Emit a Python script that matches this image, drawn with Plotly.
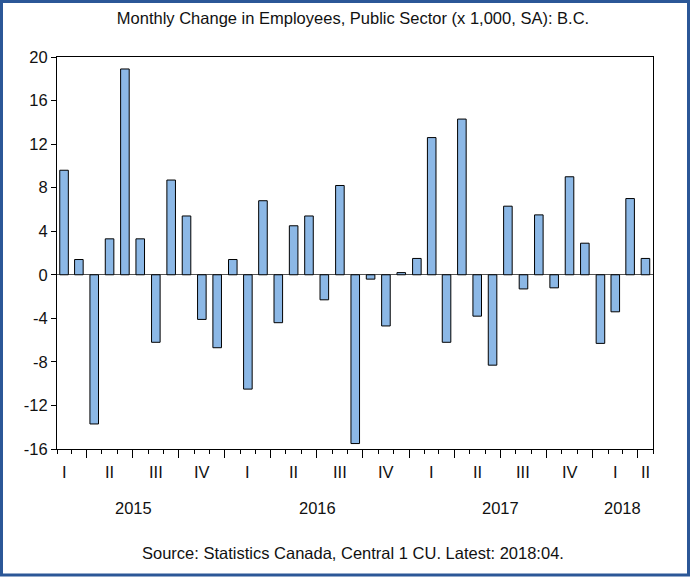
import plotly.graph_objects as go
import pandas as pd

months = pd.date_range("2015-02-01", "2018-04-01", freq="MS").strftime("%Y-%m-%d").tolist()
values = [9.6, 1.4, -13.7, 3.3, 18.9, 3.3, -6.2, 8.7, 5.4, -4.1, -6.7, 1.4, -10.5,
          6.8, -4.4, 4.5, 5.4, -2.3, 8.2, -15.5, -0.4, -4.7, 0.2, 1.5, 12.6, -6.2,
          14.3, -3.8, -8.3, 6.3, -1.3, 5.5, -1.2, 9.0, 2.9, -6.3, -3.4, 7.0, 1.5]
quarter_labels = ["I", "II", "III", "IV"]
years = ["2015", "2016", "2017", "2018"]
y_ticks = [-16, -12, -8, -4, 0, 4, 8, 12, 16, 20]

title = "Monthly Change in Employees, Public Sector (x 1,000, SA): B.C."
source = "Source: Statistics Canada, Central 1 CU. Latest: 2018:04."

FONT = "Liberation Sans, Arial, sans-serif"
FS = 16.5
x_start = pd.Timestamp(months[0])
x_end = pd.Timestamp(months[-1]) + pd.offsets.MonthBegin(1)

fig = go.Figure()
fig.add_trace(go.Bar(
    x=months, y=values,
    xperiod="M1", xperiodalignment="middle",
    width=0.56 * 30.44 * 86400000,
    marker=dict(color="#8cb8e6", line=dict(color="#000000", width=1)),
    showlegend=False,
))

def mid(a, b):
    b = min(b, x_end)
    return a + (b - a) / 2

annotations = []
q = pd.Timestamp("2015-01-01")
while q < x_end:
    qe = q + pd.offsets.QuarterBegin(1, startingMonth=1)
    annotations.append(dict(x=mid(q, qe), y=(449 - 472) / 392, xref="x", yref="paper",
                            text=quarter_labels[(q.month - 1) // 3], showarrow=False,
                            font=dict(size=FS, color="#111", family=FONT), yanchor="middle"))
    q = qe
for yr in years:
    ys = pd.Timestamp(f"{yr}-01-01"); ye = pd.Timestamp(f"{int(yr)+1}-01-01")
    annotations.append(dict(x=mid(ys, ye), y=(449 - 508) / 392, xref="x", yref="paper", text=yr,
                            showarrow=False, font=dict(size=FS, color="#111", family=FONT),
                            yanchor="middle"))
annotations.append(dict(x=(353 - 57) / 596, y=(449 - 553) / 392, xref="paper", yref="paper",
                        text=source, showarrow=False,
                        font=dict(size=FS, color="#111", family=FONT), yanchor="middle"))

fig.update_layout(
    width=691, height=579,
    margin=dict(l=57, r=38, t=57, b=130),
    paper_bgcolor="white", plot_bgcolor="white",
    title=dict(text=title, x=353 / 691, xanchor="center", y=1 - 18 / 579, yanchor="middle",
               font=dict(size=FS, color="#111", family=FONT)),
    annotations=annotations,
    shapes=[dict(type="rect", xref="paper", yref="paper",
                 x0=(1.5 - 57) / 596, x1=(688.5 - 57) / 596,
                 y0=(449 - 575) / 392, y1=(449 - 1.5) / 392,
                 line=dict(color="#2b5797", width=3), fillcolor="rgba(0,0,0,0)")],
)
fig.update_xaxes(
    type="date", range=[x_start, x_end],
    showgrid=False, showline=True, linecolor="black", linewidth=1, mirror=True,
    ticks="outside", ticklen=8, tickcolor="black", tick0="2015-04-01", dtick="M3",
    showticklabels=False,
    minor=dict(ticks="outside", ticklen=4, tickcolor="black", tick0="2015-02-01", dtick="M1", showgrid=False),
)
fig.update_yaxes(
    range=[-16, 20], tickvals=y_ticks, ticktext=[str(v) for v in y_ticks],
    showgrid=False, showline=True, linecolor="black", linewidth=1, mirror=True,
    ticks="outside", ticklen=5, tickcolor="black",
    zeroline=True, zerolinecolor="#555555", zerolinewidth=1,
    tickfont=dict(size=FS, color="#111", family=FONT),
)
fig.write_html("out.html", config={"displayModeBar": False},
               post_script="document.body.style.margin='0';document.body.style.padding='0';")
